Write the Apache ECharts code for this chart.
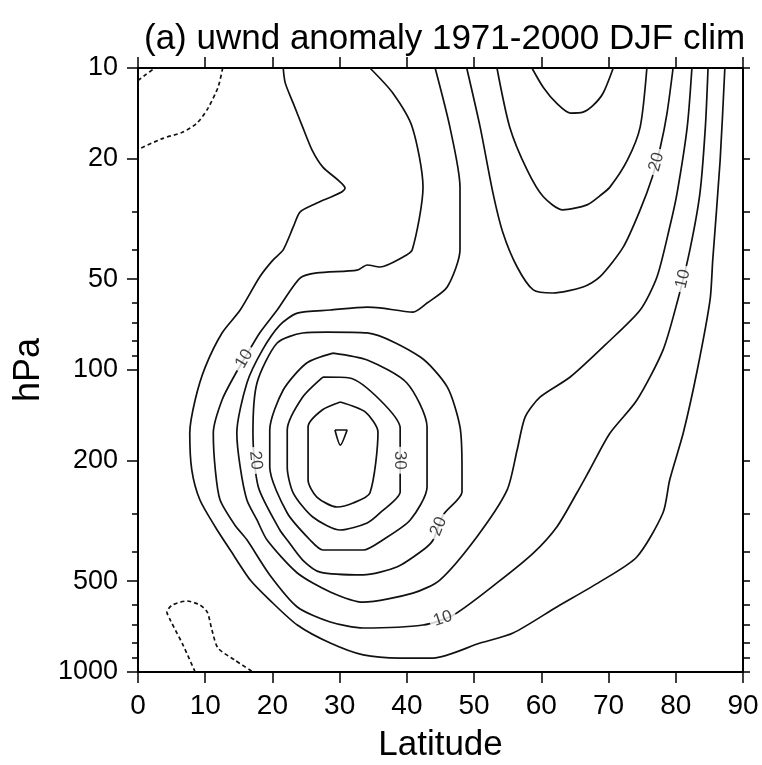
<!DOCTYPE html>
<html><head><meta charset="utf-8">
<script src="https://cdn.jsdelivr.net/npm/echarts@6/dist/echarts.min.js"></script>
<style>html,body{margin:0;padding:0;background:#fff}#c{width:762px;height:765px}</style>
</head><body><div id="c"></div>
<script>
// ---------------- data ----------------
const titleText = '(a) uwnd anomaly 1971-2000 DJF clim';
const latTicks = [0,10,20,30,40,50,60,70,80,90];
const pLabels = [10,20,50,100,200,500,1000];
const pMinor = [30,40,60,70,80,90,300,400,600,700,800,900];
const pAll = [10,20,30,40,50,60,70,80,90,100,200,300,400,500,600,700,800,900,1000];

// contour lines: [latitude, hPa]
const u5 = [[21.6,10],[21.9,11.2],[23.1,13.1],[24.5,15.7],[25.9,18.7],[27.5,21.3],[30.8,25.0],[26.6,28.0],[24.1,30.0],[23.1,33.6],[21.6,40.0],[20.1,43.2],[18.1,49.2],[15.2,63.3],[12.5,75.4],[10.0,97.8],[8.5,125.7],[7.7,161.7],[8.0,214],[9.2,269],[11.5,331],[13.7,394],[16.7,496],[19.6,578],[23.7,699],[28.6,802],[33.5,878],[39.0,899],[43.9,899],[50.9,802],[55.8,743],[62.3,609],[68.7,503],[74.2,416],[78.1,297],[79.1,231],[81.1,162],[83.2,100],[85.1,58.6],[85.5,43.2],[86.6,20.2],[87.3,10]];
const u10 = [[34.5,10],[37.9,12.1],[40.8,15.7],[42.4,24.8],[40.8,40.0],[39.4,42.3],[36.0,45.6],[34.1,44.9],[32.6,46.7],[26.6,47.7],[24.1,49.6],[20.7,63.3],[18.1,75.4],[16.4,87.2],[14.4,103.9],[12.5,125.7],[11.2,161.7],[11.5,214],[12.2,269],[14.4,326],[16.2,365],[19.6,477],[23.7,609],[28.6,683],[33.5,715],[42.4,699],[46.9,648],[53.4,507],[58.8,404],[62.3,331],[65.3,255],[67.2,214],[70.2,162],[74.2,126],[78.1,85.9],[80.3,58.6],[82.1,40.0],[83.6,25.9],[84.4,15.7],[84.8,10]];
const u15 = [[44.2,10],[46.4,15.7],[47.9,24.8],[47.9,40.0],[46.0,53.1],[43.0,60.0],[40.9,64.3],[36.0,62.3],[34.1,61.9],[28.6,63.3],[23.7,64.8],[21.1,71.0],[18.5,85.9],[16.2,110.4],[14.7,161.7],[15.2,209.5],[16.2,269.5],[17.7,313.8],[19.2,365.5],[23.7,470],[28.6,543],[33.5,587],[40.9,548],[44.9,496],[50.4,357],[54.9,250],[56.4,184],[57.6,143],[59.8,123],[64.3,105.5],[69.8,81.4],[74.7,63.3],[77.2,49.2],[79.1,33.6],[80.2,25.9],[81.7,15.7],[82.4,10]];
const jet20 = [[28.1,74.9],[34.1,75.4],[42.0,90.6],[46.0,113.8],[47.9,154.4],[48.2,214.3],[48.2,253.5],[45.4,302],[43.9,365.5],[42.4,394.5],[38.5,449],[33.5,477],[27.1,467],[24.5,426],[22.2,365.5],[21.1,338.7],[17.9,244],[17.1,161.7],[17.7,110.4],[20.7,81.4],[24.5,75.4],[28.1,74.9]];
const jet25 = [[29.0,87.9],[34.1,92.7],[40.0,110.4],[43.0,154.4],[43.0,244],[40.5,314],[36.4,365.5],[33.5,394.5],[27.5,394.5],[25.6,365.5],[22.2,297.5],[19.6,209.5],[19.6,158],[21.6,116.5],[25.1,94.8],[29.0,87.9]];
const jet30 = [[27.5,105.5],[31.5,106.3],[36.0,125.7],[39.0,155.6],[39.0,231.3],[39.0,253.5],[36.0,297.5],[34.1,321],[30.1,338.7],[26.0,306.7],[23.1,255.5],[22.2,209.5],[22.2,158],[24.5,122.9],[27.5,105.5]];
const jet35 = [[30.1,127.6],[33.8,137.7],[35.7,160.5],[34.5,255.5],[32.0,275.7],[29.6,284.2],[26.6,263.4],[25.3,231.3],[25.3,154.4],[27.4,135.7],[30.1,127.6]];
const jet40 = [[29.3,158],[31.1,158],[30.1,177.2],[29.3,158]];
const pv20 = [[48.9,10],[50.9,15.7],[52.8,25.9],[54.3,35.2],[56.4,45.6],[58.8,54.3],[61.7,55.6],[66.2,53.1],[68.7,49.2],[72.2,39.1],[74.7,29.5],[76.5,23.0],[77.7,18.3],[78.7,14.1],[79.6,10]];
const pv25 = [[53.4,10],[55.3,15.7],[57.9,21.8],[60.3,26.7],[63.2,29.5],[66.8,28.4],[68.7,26.5],[70.2,24.8],[72.8,20.2],[74.7,15.7],[75.7,10]];
const pv30 = [[58.6,10],[60.3,11.6],[62.3,13.1],[64.3,14.1],[66.2,14.0],[67.7,13.3],[69.2,12.1],[70.7,10]];
const neg1 = [[0,11.0],[1.2,10.5],[2.5,10]];
const neg2 = [[12.6,10],[11.9,11.6],[10.4,13.6],[8.8,15.2],[6.7,16.3],[3.7,17.1],[0,18.6]];
const neg3 = [[8.5,1000],[6.7,814],[4.8,673],[4.3,633],[5.1,600],[7.3,582],[9.2,600],[10.3,633],[11.0,726],[11.9,833],[14.4,913],[17.1,1000]];

// contour labels: text, contour it sits on, approximate [lat, hPa]
const labelText = ['10','20','30','20','10','20','10'];
const labelLine = ['u10','jet20','jet30','jet20','u10','pv20','u10'];
const labelPos = [[15.5,91],[17.7,199],[39.0,199],[44.9,331],[45.4,673],[77.2,20.5],[81.1,50]];

// ---------------- chart ----------------
const contours = [
  {name:'u5',data:u5,dash:false},{name:'u10',data:u10,dash:false},{name:'u15',data:u15,dash:false},
  {name:'jet20',data:jet20,dash:false},{name:'jet25',data:jet25,dash:false},{name:'jet30',data:jet30,dash:false},
  {name:'jet35',data:jet35,dash:false},{name:'jet40',data:jet40,dash:false},
  {name:'pv20',data:pv20,dash:false},{name:'pv25',data:pv25,dash:false},{name:'pv30',data:pv30,dash:false},
  {name:'neg1',data:neg1,dash:true},{name:'neg2',data:neg2,dash:true},{name:'neg3',data:neg3,dash:true}
];
const FONT = 'Liberation Sans, Arial, Helvetica, sans-serif';
const INK = '#000';
const chart = echarts.init(document.getElementById('c'), null, {renderer:'canvas'});

const axisLineStyle = {lineStyle:{color:INK,width:2}};
const option = {
  backgroundColor:'#fff',
  animation:false,
  title:{text:titleText,left:139,top:17,textStyle:{fontFamily:FONT,fontSize:35,fontWeight:'normal',color:INK}},
  grid:{left:138,top:68,width:605,height:604,containLabel:false,outerBoundsMode:'none'},
  xAxis:[
    {type:'value',min:0,max:90,interval:10,position:'bottom',
     axisLine:axisLineStyle,axisTick:{inside:false,length:11,lineStyle:{color:INK,width:1.5}},
     axisLabel:{fontFamily:FONT,fontSize:28,color:INK,margin:20,formatter:v=>String(v)},
     splitLine:{show:false},
     name:'Latitude',nameLocation:'middle',nameGap:56,nameTextStyle:{fontFamily:FONT,fontSize:35,color:INK}},
    {type:'value',min:0,max:90,interval:10,position:'top',
     axisLine:axisLineStyle,axisTick:{inside:false,length:11,lineStyle:{color:INK,width:1.5}},
     axisLabel:{show:false},splitLine:{show:false}}
  ],
  yAxis:[
    {type:'log',logBase:10,min:10,max:1000,inverse:true,position:'left',
     axisLine:axisLineStyle,
     axisTick:{inside:false,length:11,customValues:pLabels,lineStyle:{color:INK,width:1.5}},
     axisLabel:{customValues:pLabels,fontFamily:FONT,fontSize:27,color:INK,margin:20,formatter:v=>String(v)},
     splitLine:{show:false},minorTick:{show:false},
     name:'hPa',nameLocation:'middle',nameRotate:90,nameGap:86,nameTextStyle:{fontFamily:FONT,fontSize:36,color:INK}},
    {type:'log',logBase:10,min:10,max:1000,inverse:true,position:'left',
     axisLine:{show:false},
     axisTick:{inside:false,length:6,customValues:pMinor,lineStyle:{color:INK,width:1.5}},
     axisLabel:{show:false},splitLine:{show:false}},
    {type:'log',logBase:10,min:10,max:1000,inverse:true,position:'right',
     axisLine:axisLineStyle,
     axisTick:{inside:false,length:7,customValues:pAll,lineStyle:{color:INK,width:1.5}},
     axisLabel:{show:false},splitLine:{show:false}}
  ],
  series: contours.map(c => ({
    type:'line',name:c.name,xAxisIndex:0,yAxisIndex:0,data:c.data,
    showSymbol:false,symbol:'none',smooth:0.25,silent:true,clip:true,
    lineStyle:{color:'#111',width:1.7,type:c.dash?[4,3]:'solid'},z:2
  }))
};
chart.setOption(option);

// place labels on their contour lines, oriented along the line
const labelData = labelText.map((txt,i) => {
  const line = contours.find(c => c.name === labelLine[i]).data;
  const px = line.map(d => chart.convertToPixel({xAxisIndex:0,yAxisIndex:0}, d));
  const target = chart.convertToPixel({xAxisIndex:0,yAxisIndex:0}, labelPos[i]);
  let best = null;
  for (let k=0;k<px.length-1;k++){
    const a = px[k], b = px[k+1];
    const dx = b[0]-a[0], dy = b[1]-a[1];
    const L2 = dx*dx+dy*dy || 1;
    let t = ((target[0]-a[0])*dx + (target[1]-a[1])*dy)/L2;
    t = Math.max(0,Math.min(1,t));
    const q = [a[0]+t*dx, a[1]+t*dy];
    const d2 = (q[0]-target[0])**2 + (q[1]-target[1])**2;
    if (!best || d2 < best.d2) best = {d2, q, dx, dy};
  }
  let ang = Math.atan2(-best.dy, best.dx)*180/Math.PI;
  if (ang > 90) ang -= 180;
  if (ang < -90) ang += 180;
  const val = chart.convertFromPixel({xAxisIndex:0,yAxisIndex:0}, best.q);
  return {name:txt, value:val, label:{rotate:ang}};
});

chart.setOption({series: option.series.concat([{
  type:'scatter',name:'labels',xAxisIndex:0,yAxisIndex:0,data:labelData,
  symbolSize:1,itemStyle:{color:'rgba(0,0,0,0)'},silent:true,z:10,
  label:{show:true,position:'inside',formatter:'{b}',fontFamily:FONT,fontSize:17,color:'#111',
         backgroundColor:'#fff',padding:[1,4],align:'center',verticalAlign:'middle'}
}])});
</script>
</body></html>
